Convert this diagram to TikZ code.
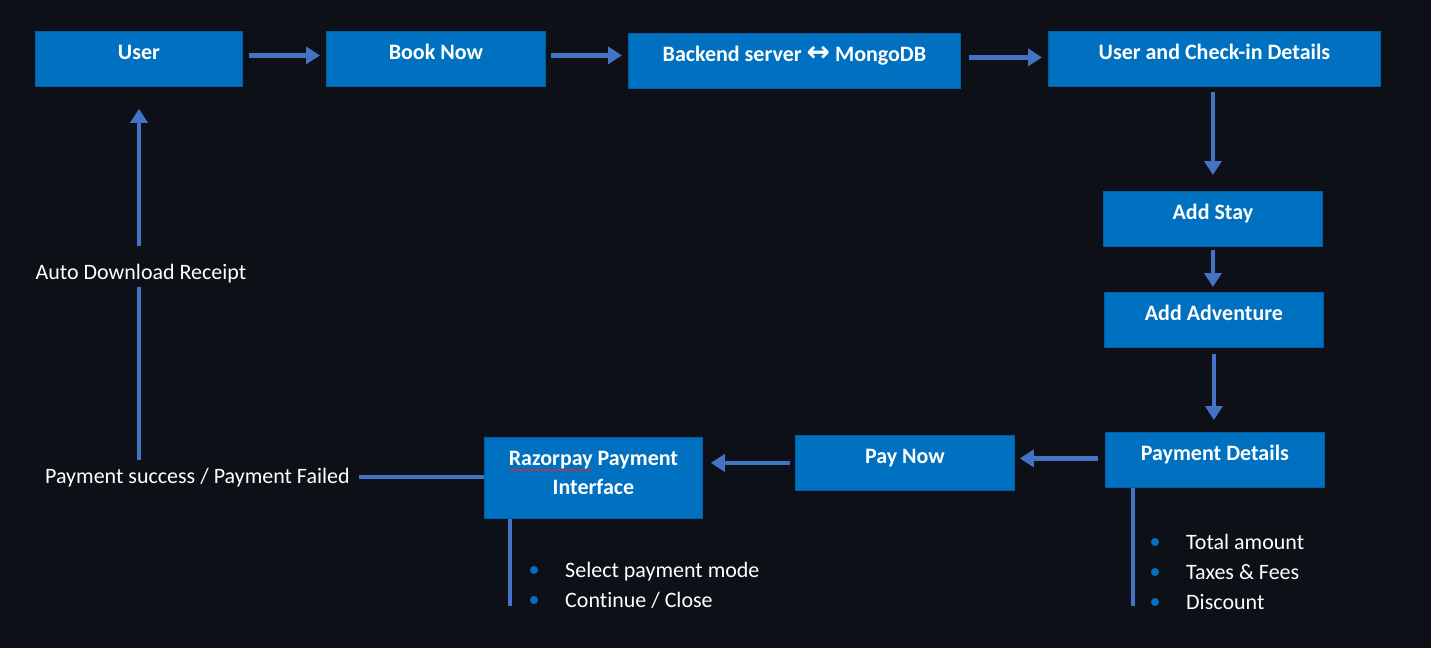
\documentclass[tikz,border=0pt]{standalone}
\usepackage{fontspec}
\setmainfont[Ligatures=NoCommon]{Carlito}
\newfontfamily\symfont{DejaVu Sans}
\usetikzlibrary{arrows.meta,decorations.pathmorphing,calc}
\definecolor{bg}{HTML}{0D1017}
\definecolor{boxblue}{HTML}{0070C0}
\definecolor{arrowblue}{HTML}{4472C4}
\definecolor{squig}{HTML}{C83232}
\begin{document}
\begin{tikzpicture}[x=1pt,y=-1pt,
  box/.style={fill=boxblue, draw=boxblue!85!black, line width=0.8pt, text=white,
    font=\bfseries\fontsize{22}{26}\selectfont, inner xsep=0pt, inner ysep=0pt,
    text height=28pt, text depth=27pt, anchor=north west},
  conn/.style={draw=arrowblue, line width=4.5pt},
  arr/.style={conn, -{Triangle[width=17pt,length=14pt]}},
  lbl/.style={text=white, font=\fontsize{22}{26}\selectfont, inner sep=0pt},
  dot/.style={circle, fill=boxblue, inner sep=0pt, minimum size=8pt}]
\path[fill=bg] (0,0) rectangle (1431,648);
\useasboundingbox (0,0) rectangle (1431,648);

% boxes
\node[box, minimum width=207pt] (user) at (35,31) {User};
\node[box, minimum width=219pt] (book) at (326,31) {Book Now};
\node[box, minimum width=332pt] (backend) at (628,33) {Backend server {\symfont\fontsize{28}{26}\selectfont ↔} MongoDB};
\node[box, minimum width=332pt] (ucd) at (1048,31) {User and Check-in Details};
\node[box, minimum width=219pt] (stay) at (1103,191) {Add Stay};
\node[box, minimum width=219pt] (adv) at (1104,292) {Add Adventure};
\node[box, minimum width=219pt] (pd) at (1105,432) {Payment Details};
\node[box, minimum width=219pt] (pay) at (795,435) {Pay Now};
\node[box, minimum width=218pt, text depth=53pt] (rz) at (484,437)
  {\begin{tabular}[t]{@{}c@{}}Razorpay Payment\\[3pt]Interface\end{tabular}};

% labels
\node[lbl, anchor=base west] (ps) at (45,483) {Payment success / Payment Failed};
\coordinate (up) at (139,460);

% arrows along the top and right
\draw[arr, shorten <=6pt, shorten >=6pt] ([yshift=3.5pt]user.east) -- ([yshift=3.5pt]user.east -| book.west);
\draw[arr, shorten <=5pt, shorten >=6pt] ([yshift=3.5pt]book.east) -- ([yshift=3.5pt]book.east -| backend.west);
\draw[arr, shorten <=8pt, shorten >=6pt] ([yshift=3.5pt]backend.east) -- ([yshift=3.5pt]backend.east -| ucd.west);
\draw[arr, shorten <=5pt, shorten >=16pt] (ucd.south -| stay.north) -- (stay.north);
\draw[arr, shorten <=3pt, shorten >=5pt] (stay.south) -- (stay.south |- adv.north);
\draw[arr, shorten <=6pt, shorten >=12pt] (adv.south) -- (adv.south |- pd.north);
\draw[arr, shorten <=7pt, shorten >=5pt] ([yshift=1.5pt]pd.west) -- ([yshift=1.5pt]pd.west -| pay.east);
\draw[arr, shorten <=5pt, shorten >=8pt] (pay.west) -- (pay.west -| rz.east);
\draw[conn, shorten >=9pt] (rz.west |- ps.east) -- (ps.east);
\draw[arr, shorten >=22pt] (up) -- (user.south -| up);
\node[lbl, fill=bg, anchor=base, text height=33pt, text depth=8pt] (adr) at (141,279) {Auto Download Receipt};

% detail lines
\coordinate (rzend) at (510,606);
\coordinate (pdend) at (1133,606);
\draw[conn] (rz.south -| rzend) -- (rzend);
\draw[conn] (pd.south -| pdend) -- (pdend);

% spell-check squiggle
\draw[squig, line width=0.8pt, decorate, decoration={snake, amplitude=0.9pt, segment length=3pt}] (509,470) -- (592,470);

% bullet lists
\node[dot] (d1) at (534,570) {};
\node[lbl, anchor=base west] (t1) at (565,577) {Select payment mode};
\node[dot] (d2) at (534,600) {};
\node[lbl, anchor=base west] (t2) at (565,607) {Continue / Close};
\node[dot] (d3) at (1155,542) {};
\node[lbl, anchor=base west] (t3) at (1186,549) {Total amount};
\node[dot] (d4) at (1155,572) {};
\node[lbl, anchor=base west] (t4) at (1186,579) {Taxes \& Fees};
\node[dot] (d5) at (1155,602) {};
\node[lbl, anchor=base west] (t5) at (1186,609) {Discount};
\end{tikzpicture}
\end{document}
